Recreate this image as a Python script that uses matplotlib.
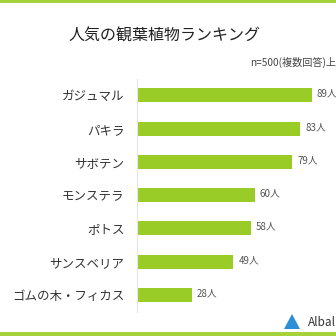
import matplotlib
matplotlib.use("Agg")
import matplotlib.pyplot as plt
from matplotlib.patches import Rectangle, Polygon

plt.rcParams['font.family'] = ['Noto Sans CJK JP', 'DejaVu Sans']

categories = ["ガジュマル", "パキラ", "サボテン", "モンステラ", "ポトス", "サンスベリア", "ゴムの木・フィカス"]
values = [89, 83, 79, 60, 58, 49, 28]
value_labels = ["89人", "83人", "79人", "60人", "58人", "49人", "28人"]
title = "人気の観葉植物ランキング"
note = "n=500(複数回答)上位7位"

W = H = 336
fig = plt.figure(figsize=(3.36, 3.36), dpi=100)
fig.patch.set_facecolor("white")

green = "#99cc27"
# top and bottom bands
fig.add_artist(Rectangle((0, 1 - 2.5 / H), 1, 2.5 / H, transform=fig.transFigure, color="#a5d23a", lw=0))
fig.add_artist(Rectangle((0, 0), 1, 4 / H, transform=fig.transFigure, color="#a5d23a", lw=0))

ax = fig.add_axes([137 / W, 1 - 311.7 / H, 199 / W, 233 / H])
ypos = list(range(len(categories)))
ax.barh(ypos, values, height=0.42, color=green)
ax.set_ylim(len(categories) - 0.5, -0.5)
ax.set_xlim(0, 101.2)
for s in ["top", "right", "bottom"]:
    ax.spines[s].set_visible(False)
ax.spines["left"].set_color("#e6e6e6")
ax.spines["left"].set_linewidth(0.8)
ax.set_xticks([])
ax.set_yticks(ypos)
ax.set_yticklabels(categories, fontsize=9, color="#333333")
ax.tick_params(axis="y", length=0, pad=9)
for y, v, lab in zip(ypos, values, value_labels):
    ax.text(v + 2.5, y - 0.05, lab, va="center", ha="left", fontsize=7, color="#555555")

fig.text(164 / W, 1 - 36 / H, title, ha="center", va="center", fontsize=11.5, color="#222222")
fig.text(250 / W, 1 - 62 / H, note, ha="left", va="center", fontsize=7.3, color="#444444")

# logo
lx, ly = 284 / W, 1 - 322 / H
tri = Polygon([(lx, ly - 7 / H), (lx + 8 / W, ly + 8 / H), (lx + 16 / W, ly - 7 / H)],
              closed=True, transform=fig.transFigure, color="#2a8fd6", lw=0)
fig.add_artist(tri)
fig.text(308 / W, ly, "Albalink", ha="left", va="center", fontsize=8.5, color="#333333")

fig.savefig("out.png", dpi=100)
